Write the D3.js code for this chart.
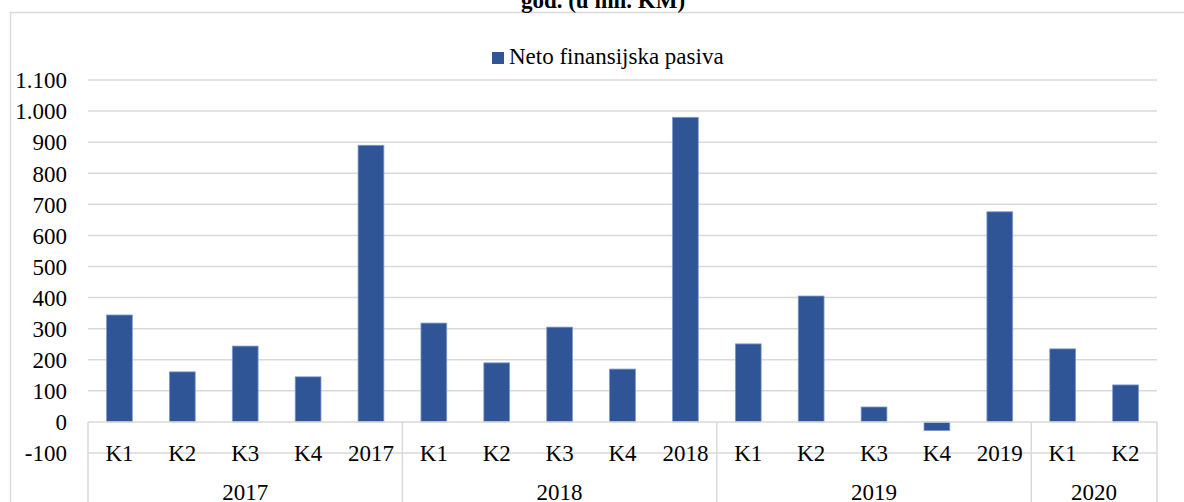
<!DOCTYPE html>
<html>
<head>
<meta charset="utf-8">
<script src="https://cdn.jsdelivr.net/npm/d3@7"></script>
<style>
  body { margin: 0; background: #fff; }
  svg { font-family: "Liberation Serif", "Times New Roman", serif; }
  .grid line { stroke: #d9d9d9; stroke-width: 1.5; }
  .bar { fill: #2f5597; stroke: #7f9bcc; stroke-width: 0.8; }
</style>
</head>
<body>
<svg width="1184" height="502"></svg>
<script>
// Categories (quarter / year) and their group
var categories = ['K1', 'K2', 'K3', 'K4', '2017', 'K1', 'K2', 'K3', 'K4', '2018',
                  'K1', 'K2', 'K3', 'K4', '2019', 'K1', 'K2'];
var groups = ['2017', '2018', '2019', '2020'];
var groupSizes = [5, 5, 5, 2];

// Neto finansijska pasiva (mil. KM)
var values = [344, 161, 244, 145, 890, 318, 190, 305, 170, 980,
              251, 405, 48, -28, 676, 235, 119];

var yTicks = [-100, 0, 100, 200, 300, 400, 500, 600, 700, 800, 900, 1000, 1100];

var svg = d3.select('svg');
var plotLeft = 88, plotRight = 1157, plotTop = 80, plotBottom = 453;

var x = d3.scaleBand()
    .domain(d3.range(categories.length))
    .range([plotLeft, plotRight])
    .paddingInner(0.59)
    .paddingOuter(0.295);

var y = d3.scaleLinear().domain([-100, 1100]).range([plotBottom, plotTop]);

// thousands with a dot, plain hyphen for minus
var fmt = function(d) {
  return d3.format(',')(d).replace(/,/g, '.').replace('\u2212', '-');
};

// Chart frame
svg.append('path')
    .attr('d', 'M10.5,502 V12.5 H1184')
    .attr('fill', 'none')
    .attr('stroke', '#d9d9d9')
    .attr('stroke-width', 1.5);

// Title (cut at top)
svg.append('text')
    .attr('x', 603).attr('y', 8)
    .attr('text-anchor', 'middle')
    .attr('font-weight', 'bold')
    .attr('font-size', 23)
    .text('god. (u mil. KM)');

// Gridlines
svg.append('g').attr('class', 'grid')
  .selectAll('line').data(yTicks.filter(d => d !== 0)).enter().append('line')
    .attr('x1', plotLeft).attr('x2', plotRight)
    .attr('y1', d => y(d)).attr('y2', d => y(d));

// Y labels
svg.append('g').selectAll('text').data(yTicks).enter().append('text')
    .attr('x', 67).attr('y', d => y(d))
    .attr('dy', '0.36em')
    .attr('text-anchor', 'end')
    .attr('font-size', 23)
    .text(fmt);

// Bars
svg.append('g').selectAll('rect').data(values).enter().append('rect')
    .attr('class', 'bar')
    .attr('x', (d, i) => x(i))
    .attr('width', x.bandwidth())
    .attr('y', d => y(Math.max(0, d)))
    .attr('height', d => Math.abs(y(d) - y(0)));

// Category axis
var axisCol = '#d9d9d9';
svg.append('line')
    .attr('x1', plotLeft).attr('x2', plotRight)
    .attr('y1', y(0)).attr('y2', y(0))
    .attr('stroke', axisCol).attr('stroke-width', 1.5);

var step = x.step();
var bounds = [0];
groupSizes.forEach(function(n) { bounds.push(bounds[bounds.length - 1] + n); });

svg.append('g').selectAll('line').data(bounds).enter().append('line')
    .attr('x1', d => plotLeft + d * step).attr('x2', d => plotLeft + d * step)
    .attr('y1', y(0)).attr('y2', 502)
    .attr('stroke', axisCol).attr('stroke-width', 1.5);

svg.append('g').selectAll('text').data(categories).enter().append('text')
    .attr('x', (d, i) => x(i) + x.bandwidth() / 2)
    .attr('y', 461)
    .attr('text-anchor', 'middle')
    .attr('font-size', 23)
    .text(d => d);

svg.append('g').selectAll('text').data(groups).enter().append('text')
    .attr('x', (d, i) => plotLeft + (bounds[i] + bounds[i + 1]) / 2 * step)
    .attr('y', 500)
    .attr('text-anchor', 'middle')
    .attr('font-size', 23)
    .text(d => d);

// Legend
svg.append('rect')
    .attr('x', 492).attr('y', 52).attr('width', 12).attr('height', 12)
    .attr('fill', '#2f5597');
svg.append('text')
    .attr('x', 509).attr('y', 64)
    .attr('font-size', 23)
    .text('Neto finansijska pasiva');
</script>
</body>
</html>
